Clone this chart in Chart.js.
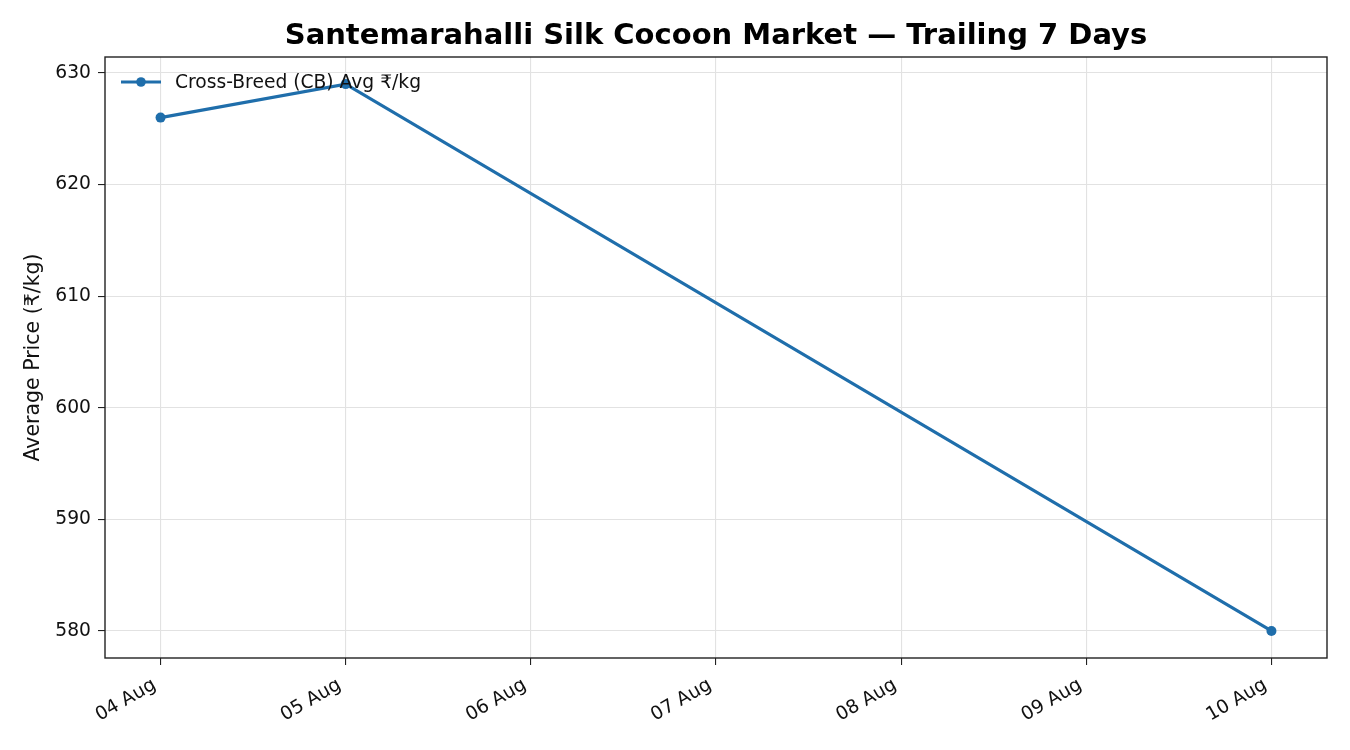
<!DOCTYPE html>
<html>
<head>
<meta charset="utf-8">
<script src="https://cdn.jsdelivr.net/npm/chart.js@4"></script>
<style>
  html, body { margin: 0; padding: 0; background: #fff; }
  #wrap { width: 1350px; height: 750px; }
</style>
</head>
<body>
<div id="wrap"><canvas id="priceChart" width="1350" height="750"></canvas></div>
<script>
// data
const dayLabels = ["04 Aug", "05 Aug", "06 Aug", "07 Aug", "08 Aug", "09 Aug", "10 Aug"];
const cbPrices = [626, 629, null, null, null, null, 580];
const yTicks = [580, 590, 600, 610, 620, 630];
const seriesLabel = "Cross-Breed (CB) Avg ₹/kg";
const chartTitle = "Santemarahalli Silk Cocoon Market — Trailing 7 Days";

const FONT = "'DejaVu Sans', sans-serif";
const LINE_COLOR = "#1f6eab";

// only the days that have a price become points
const points = [];
cbPrices.forEach((v, i) => {
  if (v !== null) points.push({ x: i, y: v });
});

// ===== frame, title and in-plot legend
const decor = {
  id: "decor",
  afterDraw(chart) {
    const { ctx, chartArea: a } = chart;
    ctx.save();
    ctx.strokeStyle = "#222";
    ctx.lineWidth = 1.4;
    ctx.strokeRect(a.left, a.top, a.right - a.left, a.bottom - a.top);

    ctx.fillStyle = "#000";
    ctx.font = "bold 29px " + FONT;
    ctx.textAlign = "center";
    ctx.textBaseline = "middle";
    ctx.fillText(chartTitle, (a.left + a.right) / 2, 36.5);

    // legend handle
    const ly = 82;
    ctx.strokeStyle = LINE_COLOR;
    ctx.lineWidth = 3.2;
    ctx.beginPath();
    ctx.moveTo(121, ly);
    ctx.lineTo(161, ly);
    ctx.stroke();
    ctx.fillStyle = LINE_COLOR;
    ctx.beginPath();
    ctx.arc(141, ly, 4.8, 0, Math.PI * 2);
    ctx.fill();
    ctx.fillStyle = "#111";
    ctx.font = "18.7px " + FONT;
    ctx.textAlign = "left";
    ctx.fillText(seriesLabel, 175, ly + 1);
    ctx.restore();
  }
};

new Chart(document.getElementById("priceChart"), {
  type: "line",
  data: {
    datasets: [{
      label: seriesLabel,
      data: points,
      borderColor: LINE_COLOR,
      backgroundColor: LINE_COLOR,
      borderWidth: 3.2,
      pointRadius: 5,
      pointBorderWidth: 0,
      pointHoverRadius: 5,
      tension: 0,
      spanGaps: true
    }]
  },
  options: {
    responsive: false,
    animation: false,
    layout: { padding: { top: 57, right: 23, left: 21, bottom: 0 } },
    plugins: {
      legend: { display: false },
      title: { display: false },
      tooltip: { enabled: false }
    },
    scales: {
      x: {
        type: "linear",
        min: -0.3,
        max: 6.3,
        afterBuildTicks: (scale) => {
          scale.ticks = dayLabels.map((_, i) => ({ value: i }));
        },
        afterFit: (scale) => { scale.height = 92; },
        ticks: {
          callback: (v) => dayLabels[v] ?? "",
          minRotation: 30,
          maxRotation: 30,
          color: "#111",
          font: { family: FONT, size: 18.7 },
          padding: 9,
          labelOffset: -6
        },
        grid: {
          color: "#e2e2e2",
          tickColor: "#222",
          tickLength: 7,
          lineWidth: 1.1
        },
        border: { display: false }
      },
      y: {
        min: 577.58,
        max: 631.43,
        afterBuildTicks: (scale) => {
          scale.ticks = yTicks.map((v) => ({ value: v }));
        },
        afterFit: (scale) => { scale.width = 84; },
        ticks: {
          color: "#111",
          font: { family: FONT, size: 18.7 },
          padding: 7
        },
        title: {
          display: true,
          text: "Average Price (₹/kg)",
          color: "#111",
          font: { family: FONT, size: 20.5 },
          padding: 0
        },
        grid: {
          color: "#e2e2e2",
          tickColor: "#222",
          tickLength: 7,
          lineWidth: 1.1
        },
        border: { display: false }
      }
    }
  },
  plugins: [decor]
});
</script>
</body>
</html>
